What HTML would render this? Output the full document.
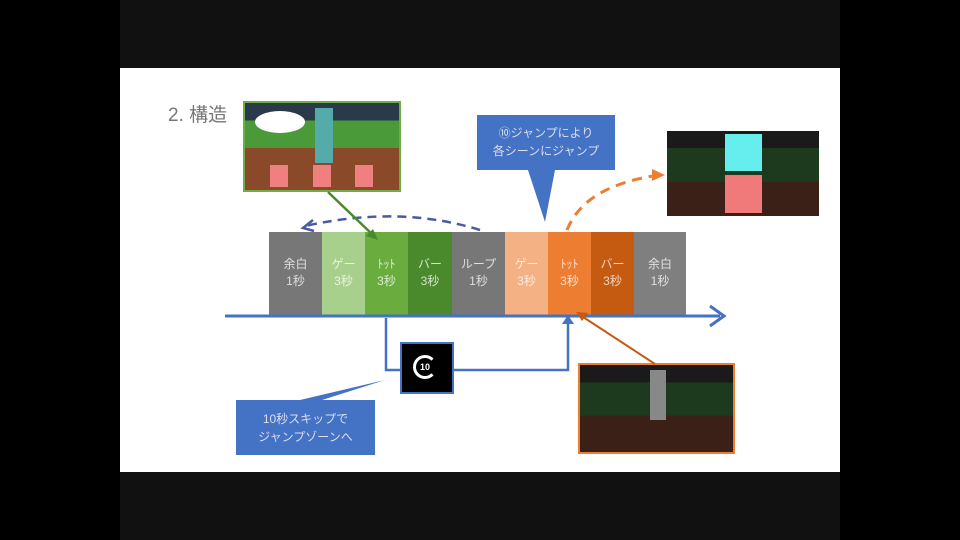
<!DOCTYPE html>
<html><head><meta charset="utf-8"><style>
html,body{margin:0;padding:0;width:960px;height:540px;overflow:hidden;background:#111;font-family:"Liberation Sans","Noto Sans CJK JP",sans-serif}
.a{position:absolute}
.blk{position:absolute;top:232px;height:83px;color:rgba(255,255,255,.75);font-size:12px;text-align:center;line-height:17px;padding-top:24px;box-sizing:border-box}
</style></head><body>
<div class="a" style="left:0;top:0;width:960px;height:540px;background:#000"></div>
<div class="a" style="left:120px;top:0;width:720px;height:540px;background:#111"></div>
<div class="a" style="left:120px;top:68px;width:720px;height:404px;background:#fff"></div>
<div class="a" style="left:168px;top:100px;font-size:19px;color:#777">2. 構造</div>

<!-- blocks -->
<div class="blk" style="left:269px;width:53px;background:#777">余白<br>1秒</div>
<div class="blk" style="left:322px;width:43px;background:#a8d08d">ゲー<br>3秒</div>
<div class="blk" style="left:365px;width:43px;background:#6aad3e">ﾄｯﾄ<br>3秒</div>
<div class="blk" style="left:408px;width:44px;background:#4a8a2c">バー<br>3秒</div>
<div class="blk" style="left:452px;width:53px;background:#777">ループ<br>1秒</div>
<div class="blk" style="left:505px;width:43px;background:#f4b183">ゲー<br>3秒</div>
<div class="blk" style="left:548px;width:43px;background:#ed7d31">ﾄｯﾄ<br>3秒</div>
<div class="blk" style="left:591px;width:43px;background:#c55a11">バー<br>3秒</div>
<div class="blk" style="left:634px;width:52px;background:#7f7f7f">余白<br>1秒</div>

<!-- images -->
<div class="a" style="left:243px;top:101px;width:154px;height:87px;border:2px solid #70ad47;background:linear-gradient(#2a3a4a 0 20%,#4a9a3a 20% 52%,#8a4a2a 52% 100%)">
 <div class="a" style="left:10px;top:8px;width:50px;height:22px;background:#fff;border-radius:50%"></div>
 <div class="a" style="left:70px;top:5px;width:18px;height:55px;background:#5aa;"></div>
 <div class="a" style="left:25px;top:62px;width:18px;height:22px;background:#f08080"></div>
 <div class="a" style="left:68px;top:62px;width:18px;height:22px;background:#f08080"></div>
 <div class="a" style="left:110px;top:62px;width:18px;height:22px;background:#f08080"></div>
</div>
<div class="a" style="left:667px;top:131px;width:152px;height:85px;background:linear-gradient(#1a1a1a 0 20%,#1e3a1e 20% 60%,#3a2016 60%)">
 <div class="a" style="left:58px;top:3px;width:37px;height:37px;background:#6ee"></div>
 <div class="a" style="left:58px;top:44px;width:37px;height:38px;background:#f07a7a"></div>
</div>
<div class="a" style="left:578px;top:363px;width:153px;height:87px;border:2px solid #ed7d31;background:linear-gradient(#1a1a1a 0 20%,#1e3a1e 20% 58%,#3a2016 58%)">
 <div class="a" style="left:70px;top:5px;width:16px;height:50px;background:#888"></div>
</div>

<!-- callouts -->
<svg class="a" style="left:0;top:0" width="960" height="540">
 <polygon points="477,115 615,115 615,170 555,170 545,222 528,170 477,170" fill="#4472c4"/>
 <polygon points="236,400 300,400 385,380 322,400 375,400 375,455 236,455" fill="#4472c4"/>
 <!-- axis -->
 <line x1="225" y1="316" x2="720" y2="316" stroke="#4472c4" stroke-width="3"/>
 <polyline points="710,306 724,316 710,326" fill="none" stroke="#4472c4" stroke-width="3"/>
 <polyline points="386,318 386,370 568,370 568,322" fill="none" stroke="#4472c4" stroke-width="2.5"/>
 <polygon points="562,324 574,324 568,315" fill="#4472c4"/>
 <!-- dashed blue loop -->
 <path d="M480,230 Q400,205 305,226" fill="none" stroke="#4a5aa0" stroke-width="2.5" stroke-dasharray="9,6"/>
 <polyline points="313,220 303,228 314,231" fill="none" stroke="#4a5aa0" stroke-width="2.5"/>
 <!-- orange dashed -->
 <path d="M567,230 Q585,185 660,175" fill="none" stroke="#ed7d31" stroke-width="3" stroke-dasharray="10,7"/>
 <polygon points="652,169 665,175 652,181" fill="#ed7d31"/>
 <!-- green arrow -->
 <line x1="328" y1="192" x2="374" y2="236" stroke="#4a8a2c" stroke-width="2.5"/>
 <polygon points="378,240 366,236 373,229" fill="#4a8a2c"/>
 <!-- orange arrow -->
 <line x1="655" y1="364" x2="580" y2="315" stroke="#c55a11" stroke-width="2"/>
 <polygon points="576,312 588,313 582,321" fill="#c55a11"/>
</svg>
<div class="a" style="left:477px;top:124px;width:138px;text-align:center;color:#dde;font-size:12px;line-height:18px">⑩ジャンプにより<br>各シーンにジャンプ</div>
<div class="a" style="left:236px;top:410px;width:139px;text-align:center;color:#dde;font-size:12px;line-height:18px">10秒スキップで<br>ジャンプゾーンへ</div>

<!-- icon -->
<div class="a" style="left:400px;top:342px;width:50px;height:48px;background:#000;border:2px solid #4472c4"></div>
<div class="a" style="left:413px;top:355px;width:18px;height:18px;border:3px solid #fff;border-right-color:transparent;border-radius:50%;color:#fff;font-size:9px;font-weight:bold;text-align:center;line-height:18px">10</div>
</body></html>
